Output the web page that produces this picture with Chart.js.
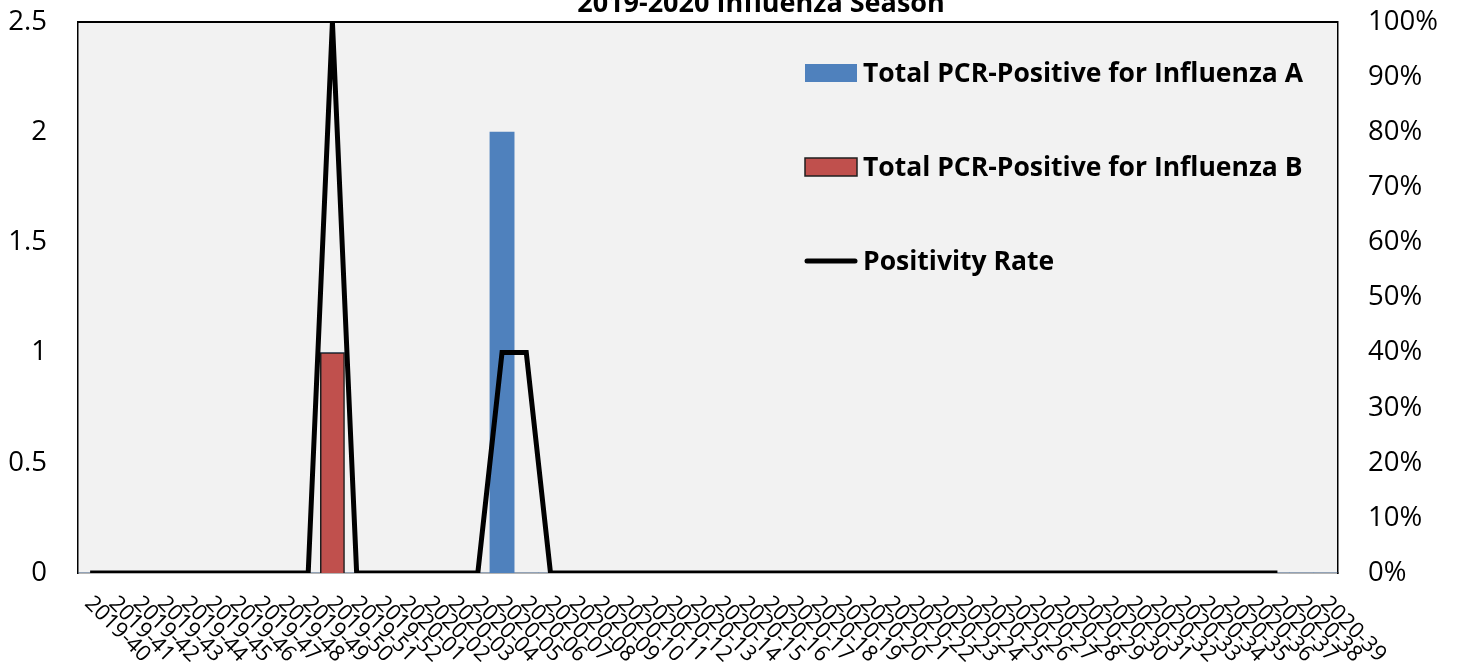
<!DOCTYPE html>
<html>
<head>
<meta charset="utf-8">
<script src="https://cdn.jsdelivr.net/npm/chart.js@4/dist/chart.umd.min.js"></script>
<style>
  body { margin: 0; background: #ffffff; }
  #wrap { width: 1458px; height: 664px; position: relative; }
</style>
</head>
<body>
<div id="wrap"><canvas id="fluChart"></canvas></div>
<script>
// Week labels, 2019-40 .. 2020-39
var weeks = [
  "2019-40", "2019-41", "2019-42", "2019-43", "2019-44", "2019-45", "2019-46",
  "2019-47", "2019-48", "2019-49", "2019-50", "2019-51", "2019-52",
  "2020-01", "2020-02", "2020-03", "2020-04", "2020-05", "2020-06", "2020-07",
  "2020-08", "2020-09", "2020-10", "2020-11", "2020-12", "2020-13", "2020-14",
  "2020-15", "2020-16", "2020-17", "2020-18", "2020-19", "2020-20", "2020-21",
  "2020-22", "2020-23", "2020-24", "2020-25", "2020-26", "2020-27", "2020-28",
  "2020-29", "2020-30", "2020-31", "2020-32", "2020-33", "2020-34", "2020-35",
  "2020-36", "2020-37", "2020-38", "2020-39"
];

// Total PCR-positive counts
var fluA = [
  0, 0, 0, 0, 0, 0, 0, 0, 0, 0, 0, 0, 0,
  0, 0, 0, 0, 2, 0, 0, 0, 0, 0, 0, 0, 0, 0, 0, 0, 0, 0, 0, 0, 0, 0, 0, 0, 0, 0,
  0, 0, 0, 0, 0, 0, 0, 0, 0, 0, 0, 0, 0
];
var fluB = [
  0, 0, 0, 0, 0, 0, 0, 0, 0, 0, 1, 0, 0,
  0, 0, 0, 0, 0, 0, 0, 0, 0, 0, 0, 0, 0, 0, 0, 0, 0, 0, 0, 0, 0, 0, 0, 0, 0, 0,
  0, 0, 0, 0, 0, 0, 0, 0, 0, 0, 0, 0, 0
];

// Positivity rate in percent (no data for the last two weeks)
var positivity = [
  0, 0, 0, 0, 0, 0, 0, 0, 0, 0, 100, 0, 0,
  0, 0, 0, 0, 40, 40, 0, 0, 0, 0, 0, 0, 0, 0, 0, 0, 0, 0, 0, 0, 0, 0, 0, 0, 0, 0,
  0, 0, 0, 0, 0, 0, 0, 0, 0, 0, 0, null, null
];

var leftTicks = [0, 0.5, 1, 1.5, 2, 2.5];
var rightTicks = [0, 10, 20, 30, 40, 50, 60, 70, 80, 90, 100];

var chartTitle = "2019-2020 Influenza Season";

// plot background, top border, title, legend and slanted week labels
var decor = {
  id: "decor",
  beforeDraw: function (chart) {
    var a = chart.chartArea, ctx = chart.ctx;
    ctx.save();
    ctx.fillStyle = "#f2f2f2";
    ctx.fillRect(a.left, a.top, a.right - a.left, a.bottom - a.top);
    ctx.restore();
  },
  afterDatasetsDraw: function (chart) {
    var a = chart.chartArea, ctx = chart.ctx;
    ctx.save();
    ctx.strokeStyle = "#000";
    ctx.lineWidth = 2;
    ctx.beginPath();
    ctx.moveTo(a.left, a.top);
    ctx.lineTo(a.right, a.top);
    ctx.stroke();
    ctx.restore();
  },
  afterDraw: function (chart) {
    var ctx = chart.ctx;
    var xs = chart.scales.x;
    ctx.save();

    // title (partly above the canvas, as in the original)
    ctx.fillStyle = "#000";
    ctx.font = "bold 27px 'Open Sans'";
    ctx.textAlign = "center";
    ctx.textBaseline = "alphabetic";
    ctx.fillText(chartTitle, 761, 12);

    // legend
    var rows = [73, 167, 261];
    ctx.font = "bold 26.5px 'Open Sans'";
    ctx.textAlign = "left";
    ctx.textBaseline = "middle";
    chart.data.datasets.forEach(function (ds, i) {
      var y = rows[i];
      if (ds.type === "line") {
        ctx.strokeStyle = ds.borderColor;
        ctx.lineWidth = 5;
        ctx.lineCap = "round";
        ctx.beginPath();
        ctx.moveTo(807, y);
        ctx.lineTo(855, y);
        ctx.stroke();
      } else {
        ctx.fillStyle = ds.backgroundColor;
        ctx.fillRect(805, y - 9, 52, 18);
        if (ds.borderWidth) {
          ctx.strokeStyle = ds.borderColor;
          ctx.lineWidth = 1.5;
          ctx.strokeRect(805, y - 9, 52, 18);
        }
      }
      ctx.fillStyle = "#000";
      ctx.fillText(ds.label, 863, y + 1);
    });

    // week labels, slanting down to the right
    ctx.font = "22px 'Open Sans'";
    ctx.textAlign = "left";
    ctx.textBaseline = "middle";
    xs.ticks.forEach(function (t, i) {
      var px = xs.getPixelForTick(i);
      ctx.save();
      ctx.translate(px - 2, xs.top + 27);
      ctx.rotate(Math.PI / 4);
      ctx.fillText(weeks[i], 0, 0);
      ctx.restore();
    });
    ctx.restore();
  }
};

function noVerticalPad(s) {
  s.paddingTop = 0;
  s.paddingBottom = 0;
}

var ctx = document.getElementById("fluChart").getContext("2d");
var fluChart = new Chart(ctx, {
  type: "bar",
  data: {
    labels: weeks,
    datasets: [
      {
        label: "Total PCR-Positive for Influenza A",
        data: fluA,
        backgroundColor: "#4f81bd",
        borderWidth: 0,
        yAxisID: "y",
        order: 2
      },
      {
        label: "Total PCR-Positive for Influenza B",
        data: fluB,
        backgroundColor: "#c0504d",
        borderColor: "#1f1f1f",
        borderWidth: 1.5,
        yAxisID: "y",
        order: 1
      },
      {
        type: "line",
        label: "Positivity Rate",
        data: positivity,
        borderColor: "#000000",
        borderWidth: 5,
        borderJoinStyle: "miter",
        tension: 0,
        pointRadius: 0,
        fill: false,
        yAxisID: "y1",
        order: 0
      }
    ]
  },
  plugins: [decor],
  options: {
    responsive: true,
    maintainAspectRatio: false,
    animation: false,
    events: [],
    layout: { padding: { top: 22, left: 0, right: 0, bottom: 0 } },
    datasets: {
      bar: { barPercentage: 1, categoryPercentage: 1 }
    },
    scales: {
      x: {
        stacked: true,
        grid: { display: false, drawTicks: false },
        border: { color: "#b4b4b4", width: 2 },
        ticks: { display: false },
        afterFit: function (s) {
          s.height = 91;
          s.paddingLeft = 0;
          s.paddingRight = 0;
        }
      },
      y: {
        position: "left",
        stacked: true,
        min: 0,
        max: 2.5,
        afterBuildTicks: function (s) {
          s.ticks = leftTicks.map(function (v) { return { value: v }; });
        },
        grid: { display: false, drawTicks: false },
        border: { color: "#000", width: 1.5 },
        ticks: {
          padding: 31,
          color: "#000",
          font: { family: "'Open Sans'", size: 27.5 },
          callback: function (v) { return String(v); }
        },
        afterFit: function (s) {
          s.width = 78;
          noVerticalPad(s);
        }
      },
      y1: {
        position: "right",
        min: 0,
        max: 100,
        afterBuildTicks: function (s) {
          s.ticks = rightTicks.map(function (v) { return { value: v }; });
        },
        grid: { display: false, drawTicks: false },
        border: { color: "#000", width: 1.5 },
        ticks: {
          padding: 30,
          color: "#000",
          font: { family: "'Open Sans'", size: 27.5 },
          callback: function (v) { return v + "%"; }
        },
        afterFit: function (s) {
          s.width = 120;
          noVerticalPad(s);
        }
      }
    },
    plugins: {
      legend: { display: false },
      title: { display: false },
      tooltip: { enabled: false }
    }
  }
});
</script>
</body>
</html>
